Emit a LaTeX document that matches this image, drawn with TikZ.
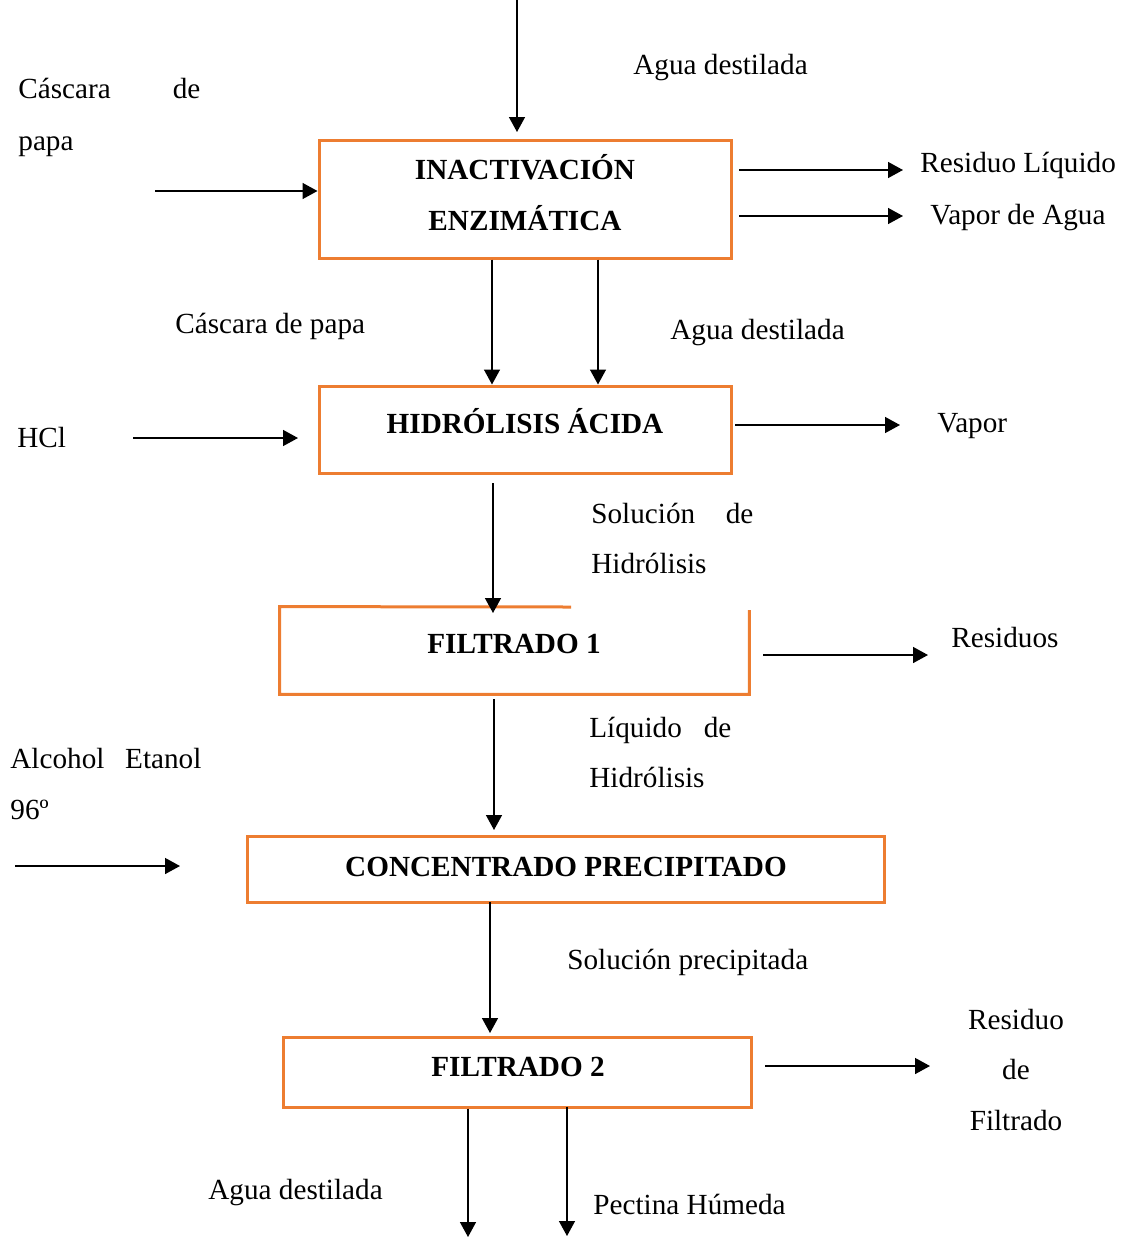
\documentclass[tikz,border=0pt]{standalone}
\usepackage{fontspec}
\setmainfont{Liberation Serif}
\usetikzlibrary{arrows.meta}
\definecolor{boxorange}{HTML}{ED7D31}
\tikzset{
  x=0.5pt, y=-0.5pt,
  flow/.style={draw=black, line width=0.75pt, -{Triangle[width=8pt,length=7.5pt]}},
  box/.style={draw=boxorange, line width=1.5pt, inner sep=0pt},
  boxline/.style={draw=boxorange, line width=1.5pt, line join=miter},
  title/.style={font=\fontsize{14.6}{18}\selectfont\bfseries, inner sep=0pt, anchor=base},
  lbl/.style={font=\fontsize{14.6}{18}\selectfont, inner sep=0pt, anchor=base west, yshift=-1pt},
  lblc/.style={font=\fontsize{14.6}{18}\selectfont, inner sep=0pt, anchor=base, yshift=-1pt},
}
\begin{document}
\begin{tikzpicture}
\useasboundingbox (0,0) rectangle (1126,1238);

% ---------------- process boxes ----------------
\node[box, minimum width=206pt, minimum height=59pt] (b1) at (525,199) {};
\node[title] (t1a) at (525,179) {INACTIVACIÓN};
\node[title] (t1b) at (525,230) {ENZIMÁTICA};

\node[box, minimum width=206pt, minimum height=43.5pt] (b2) at (525,429.5) {};
\node[title] (t2) at (525,433) {HIDRÓLISIS ÁCIDA};

% filter 1: frame with an open stretch on the top edge
\node[inner sep=0pt, minimum width=234.5pt, minimum height=43.5pt] (b3) at (514.5,650.5) {};
\coordinate (b3gapL) at (571,607);
\coordinate (b3gapR) at (749,610);
\draw[boxline] (b3gapL) -- (b3.north west) -- (b3.south west) -- (b3.south east) -- (b3.east |- b3gapR);
\node[title] (t3) at (514,653) {FILTRADO 1};

\node[box, minimum width=318.5pt, minimum height=33pt] (b4) at (565.5,869) {};
\node[title] (t4) at (566,876) {CONCENTRADO PRECIPITADO};

\node[box, minimum width=234pt, minimum height=35pt] (b5) at (517,1072) {};
\node[title] (t5) at (518,1076) {FILTRADO 2};

% ---------------- inactivation ----------------
\coordinate (topIn) at (517,0);
\coordinate (topInEnd) at (517,132);
\draw[flow] (topIn) -- (topInEnd);
\node[lbl] (lAgua1) at (633,72) {Agua destilada};

\node[lbl] (lCasc1) at (18,96) {\makebox[91pt][s]{Cáscara de}};
\node[lbl] (lCasc2) at (18,148) {papa};
\coordinate (cascIn) at (155,191);
\draw[flow] (cascIn) -- (cascIn -| b1.west);

\coordinate (r1s) at (739,170); \coordinate (r1e) at (903,170);
\coordinate (r2s) at (739,216); \coordinate (r2e) at (903,216);
\draw[flow] (r1s) -- (r1e);
\draw[flow] (r2s) -- (r2e);
\node[lbl] (lResLiq) at (920,170) {Residuo Líquido};
\node[lbl] (lVapAg) at (930,222) {Vapor de Agua};

% ---------------- to hydrolysis ----------------
\coordinate (d1) at (492,0);
\coordinate (d2) at (598,0);
\draw[flow] (b1.south -| d1) -- (b2.north -| d1);
\draw[flow] (b1.south -| d2) -- (b2.north -| d2);
\node[lbl] (lCasc3) at (175,331) {Cáscara de papa};
\node[lbl] (lAgua2) at (670,337) {Agua destilada};

\coordinate (hclS) at (133,438); \coordinate (hclE) at (298,438);
\draw[flow] (hclS) -- (hclE);
\node[lbl] (lHCl) at (17,445) {HCl};

\coordinate (vapS) at (735,425); \coordinate (vapE) at (900,425);
\draw[flow] (vapS) -- (vapE);
\node[lbl] (lVap) at (937,430) {Vapor};

% ---------------- to filter 1 ----------------
\coordinate (f1s) at (493,483); \coordinate (f1e) at (493,613);
\draw[flow] (f1s) -- (f1e);
\node[lbl] (lSol1) at (591,521) {\makebox[81pt][s]{Solución de}};
\node[lbl] (lSol2) at (591,571) {Hidrólisis};

\coordinate (res1s) at (763,655); \coordinate (res1e) at (928,655);
\draw[flow] (res1s) -- (res1e);
\node[lbl] (lRes) at (951,645) {Residuos};

% ---------------- to concentration ----------------
\coordinate (c1s) at (494,699); \coordinate (c1e) at (494,830);
\draw[flow] (c1s) -- (c1e);
\node[lbl] (lLiq1) at (589,735) {\makebox[71pt][s]{Líquido de}};
\node[lbl] (lLiq2) at (589,785) {Hidrólisis};

\node[lbl] (lAlc1) at (10,766) {\makebox[95.5pt][s]{Alcohol Etanol}};
\node[lbl] (lAlc2) at (10,817) {96º};
\coordinate (alcS) at (15,866); \coordinate (alcE) at (180,866);
\draw[flow] (alcS) -- (alcE);

% ---------------- to filter 2 ----------------
\coordinate (f2s) at (490,902); \coordinate (f2e) at (490,1033);
\draw[flow] (f2s) -- (f2e);
\node[lbl] (lSolP) at (567,967) {Solución precipitada};

\coordinate (res2s) at (765,1066); \coordinate (res2e) at (930,1066);
\draw[flow] (res2s) -- (res2e);
\node[lblc] (lRF1) at (1016,1027) {Residuo};
\node[lblc] (lRF2) at (1016,1077) {de};
\node[lblc] (lRF3) at (1016,1128) {Filtrado};

% ---------------- outputs ----------------
\coordinate (o1) at (468,1237);
\coordinate (o2) at (567,1236);
\draw[flow] (b5.south -| o1) -- (o1);
\draw[flow] ([yshift=1pt]b5.south -| o2) -- (o2);
\node[lbl] (lAgua3) at (208,1197) {Agua destilada};
\node[lbl] (lPect) at (593,1212) {Pectina Húmeda};
\end{tikzpicture}
\end{document}
